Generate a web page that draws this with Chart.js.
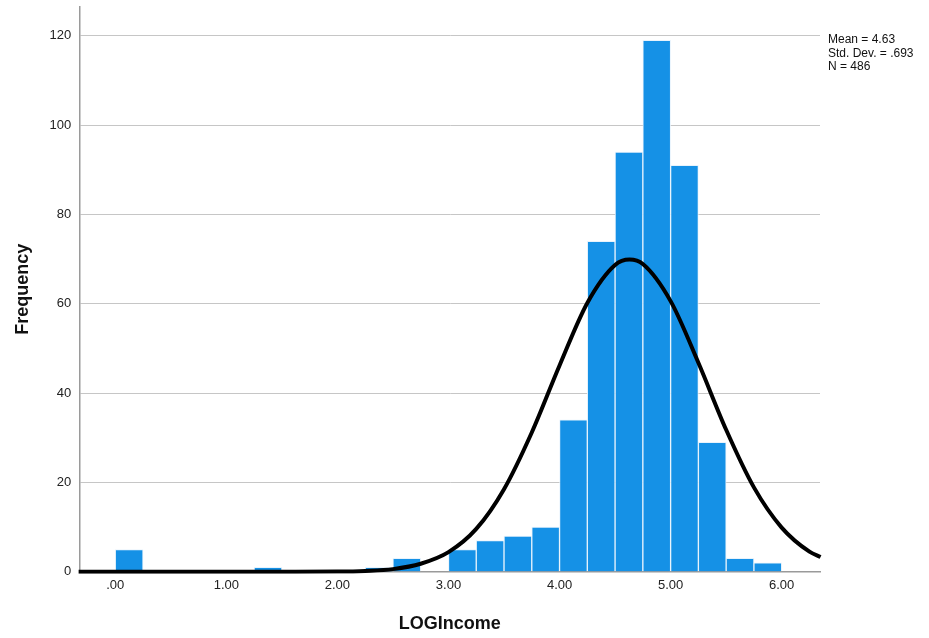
<!DOCTYPE html>
<html>
<head>
<meta charset="utf-8">
<script src="https://cdn.jsdelivr.net/npm/chart.js@4.4.1/dist/chart.umd.min.js"></script>
<style>
  body { margin: 0; background: #fff; }
  #wrap { position: relative; width: 929px; height: 638px; overflow: hidden; }
  #hist { position: absolute; left: 0; top: -9px; }
  #stats {
    position: absolute; left: 828px; top: 33px;
    font: 12px "Liberation Sans", Arial, sans-serif; line-height: 13.5px; color: #111;
  }
</style>
</head>
<body>
<div id="wrap">
  <canvas id="hist" width="929" height="647"></canvas>
  <div id="stats">Mean = 4.63<br>Std. Dev. = .693<br>N = 486</div>
</div>
<script>
// histogram bins (lower edge), each 0.25 wide
const binWidth = 0.25;
const binStarts = [0.00, 1.25, 2.25, 2.50, 3.00, 3.25, 3.50, 3.75, 4.00, 4.25, 4.50, 4.75, 5.00, 5.25, 5.50, 5.75];
const counts    = [5,    1,    1,    3,    5,    7,    8,    10,   34,   74,   94,   119,  91,   29,   3,    2];

// normal curve
const curveX = [-0.33, 1.50, 2.00, 2.25, 2.50, 2.75, 3.00, 3.25, 3.50, 3.75, 4.00, 4.25, 4.50, 4.63, 4.75, 5.00, 5.25, 5.50, 5.75, 6.00, 6.25, 6.35];
const curveY = [0,     0,    0.05, 0.2,  0.6,  1.8,  4.4,  9.6,  18.5, 31.2, 46.2, 60.2, 68.7, 69.9, 68.9, 60.6, 46.8, 31.8, 18.9, 9.9,  4.5,  3.3];

const xTicks = [0, 1, 2, 3, 4, 5, 6];
const yTicks = [0, 20, 40, 60, 80, 100, 120];

const barData = binStarts.map((s, i) => ({ x: s + binWidth / 2, y: counts[i] }));
const lineData = curveX.map((x, i) => ({ x: x, y: curveY[i] }));

function fmtX(v) {
  let s = v.toFixed(2);
  return s.charAt(0) === '0' ? s.slice(1) : s;
}

const tickFont = { family: '"Liberation Sans", Arial, sans-serif', size: 13 };
const titleFont = { family: '"Liberation Sans", Arial, sans-serif', size: 18, weight: 'bold' };

new Chart(document.getElementById('hist'), {
  data: {
    datasets: [
      {
        type: 'line',
        data: lineData,
        borderColor: '#000',
        borderWidth: 4,
        pointRadius: 0,
        cubicInterpolationMode: 'monotone',
        fill: false,
        clip: 2,
        order: 0
      },
      {
        type: 'bar',
        data: barData,
        backgroundColor: '#1591e6',
        borderColor: 'rgba(230,242,252,0.9)',
        borderWidth: 1,
        borderSkipped: 'bottom',
        barPercentage: 1,
        categoryPercentage: 1,
        order: 1
      }
    ]
  },
  options: {
    responsive: false,
    animation: false,
    layout: { padding: { left: 12, right: 109, top: 0, bottom: 3 } },
    plugins: {
      legend: { display: false },
      tooltip: { enabled: false }
    },
    scales: {
      x: {
        type: 'linear',
        offset: false,
        min: -0.324,
        max: 6.345,
        afterBuildTicks: axis => { axis.ticks = xTicks.map(v => ({ value: v })); },
        ticks: { color: '#222', font: tickFont, padding: 6, callback: v => fmtX(v), maxRotation: 0 },
        grid: { display: false, drawTicks: false, offset: false },
        border: { display: true, color: '#9a9a9a', width: 1.5 },
        title: { display: true, text: 'LOGIncome', color: '#111', font: titleFont, padding: { top: 14, bottom: 0 } }
      },
      y: {
        min: 0,
        max: 126.5,
        afterBuildTicks: axis => { axis.ticks = yTicks.map(v => ({ value: v })); },
        ticks: { color: '#222', font: tickFont, padding: 8 },
        grid: { color: '#c6c6c6', lineWidth: 1, drawTicks: false },
        border: { display: true, color: '#9a9a9a', width: 1.5 },
        title: { display: true, text: 'Frequency', color: '#111', font: titleFont, padding: { top: 0, bottom: 8 } }
      }
    }
  }
});
</script>
</body>
</html>
